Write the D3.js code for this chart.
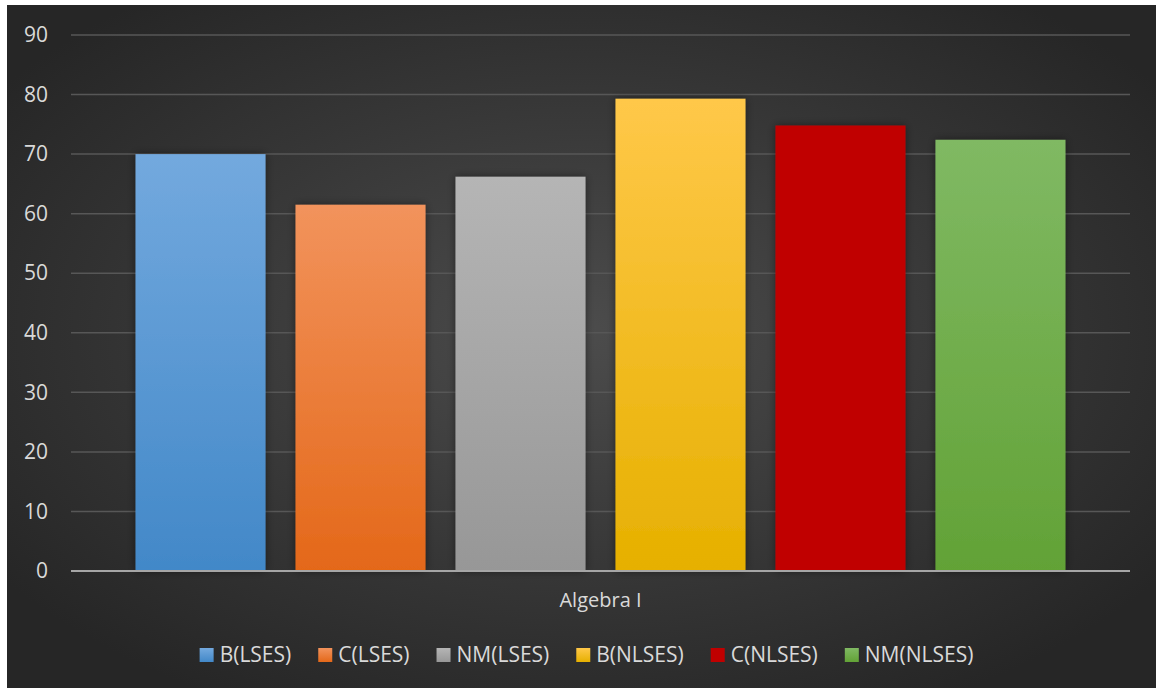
<!DOCTYPE html>
<html><head><meta charset="utf-8">
<script src="https://cdn.jsdelivr.net/npm/d3@7"></script>
<style>html,body{margin:0;padding:0;background:#fff;}svg{display:block;}</style>
</head><body>
<svg id="chart" width="1157" height="689"></svg>
<script>
const category = "Algebra I";
const seriesNames = ["B(LSES)", "C(LSES)", "NM(LSES)", "B(NLSES)", "C(NLSES)", "NM(NLSES)"];
const seriesValues = [70.0, 61.5, 66.2, 79.3, 74.8, 72.4];
const yTicks = [0, 10, 20, 30, 40, 50, 60, 70, 80, 90];
const topColors = ["#73a9de", "#f2935c", "#b5b5b5", "#ffc849", "#c00000", "#80b963"];
const bottomColors = ["#4288c8", "#e46819", "#979797", "#e6b000", "#c00000", "#62a236"];

(function () {
const svg = d3.select("#chart");
const defs = svg.append("defs");
const bg = defs.append("radialGradient").attr("id", "bg")
  .attr("cx", "50%").attr("cy", "48%").attr("r", "62%");
bg.append("stop").attr("offset", "0%").attr("stop-color", "#4c4c4c");
bg.append("stop").attr("offset", "100%").attr("stop-color", "#262626");

const sh = defs.append("filter").attr("id", "shadow").attr("x", "-20%").attr("y", "-20%").attr("width", "140%").attr("height", "140%");
sh.append("feDropShadow").attr("dx", 0).attr("dy", 0).attr("stdDeviation", 4)
  .attr("flood-color", "#000").attr("flood-opacity", 0.45);

seriesNames.forEach((s, i) => {
  const g = defs.append("linearGradient").attr("id", "g" + i)
    .attr("x1", 0).attr("y1", 0).attr("x2", 0).attr("y2", 1);
  g.append("stop").attr("offset", "0%").attr("stop-color", topColors[i]);
  g.append("stop").attr("offset", "100%").attr("stop-color", bottomColors[i]);
});

svg.append("rect").attr("x", 7).attr("y", 5).attr("width", 1149).attr("height", 683).attr("fill", "url(#bg)");

const pLeft = 71, pRight = 1130, pTop = 35, pBottom = 571;
const y = d3.scaleLinear().domain([0, 90]).range([pBottom, pTop]);
const x0 = d3.scaleBand().domain([category]).range([pLeft, pRight]).paddingInner(0).paddingOuter(0.0694);
const x1 = d3.scaleBand().domain(seriesNames).range([0, x0.bandwidth()]).paddingInner(30/160).paddingOuter(0);

const font = "'Open Sans', 'Noto Sans', sans-serif";
const textColor = "#d9d9d9";

svg.append("g").selectAll("line").data(yTicks.filter(d => d > 0)).join("line")
  .attr("x1", pLeft).attr("x2", pRight)
  .attr("y1", d => y(d)).attr("y2", d => y(d))
  .attr("stroke", "#575757").attr("stroke-width", 1.5);

const yAxis = d3.axisLeft(y).tickValues(yTicks).tickSize(0).tickPadding(23);
const ya = svg.append("g").attr("transform", `translate(${pLeft},0)`).call(yAxis);
ya.select(".domain").remove();
ya.selectAll("text").attr("fill", textColor).style("font-family", font).style("font-size", "21px");

const bars = svg.append("g").attr("transform", `translate(${x0(category)},0)`);
bars.selectAll("rect").data(seriesValues).join("rect")
  .attr("x", (d, i) => x1(seriesNames[i]))
  .attr("y", d => y(d))
  .attr("width", x1.bandwidth())
  .attr("height", d => y(0) - y(d))
  .attr("fill", (d, i) => `url(#g${i})`)
  .attr("filter", "url(#shadow)");

svg.append("line").attr("x1", pLeft).attr("x2", pRight).attr("y1", y(0)).attr("y2", y(0))
  .attr("stroke", "#a6a6a6").attr("stroke-width", 2);

const xAxis = d3.axisBottom(x0).tickSize(0).tickPadding(22);
const xa = svg.append("g").attr("transform", `translate(0,${pBottom})`).call(xAxis);
xa.select(".domain").remove();
xa.selectAll("text").attr("fill", textColor).style("font-family", font).style("font-size", "20px");

const legend = svg.append("g");
const items = legend.selectAll("g").data(seriesNames).join("g");
items.append("rect").attr("width", 14).attr("height", 14).attr("y", -7)
  .attr("fill", (d, i) => `url(#g${i})`);
items.append("text").attr("x", 20).attr("dy", "0.35em").text(d => d)
  .attr("fill", textColor).style("font-family", font).style("font-size", "21px");
const gap = 27;
let xpos = 0;
items.each(function() {
  const w = this.getBBox().width;
  d3.select(this).attr("transform", `translate(${xpos},0)`);
  xpos += w + gap;
});
const totalW = xpos - gap;
legend.attr("transform", `translate(${586.5 - totalW / 2},655)`);
})();
</script>
</body></html>
